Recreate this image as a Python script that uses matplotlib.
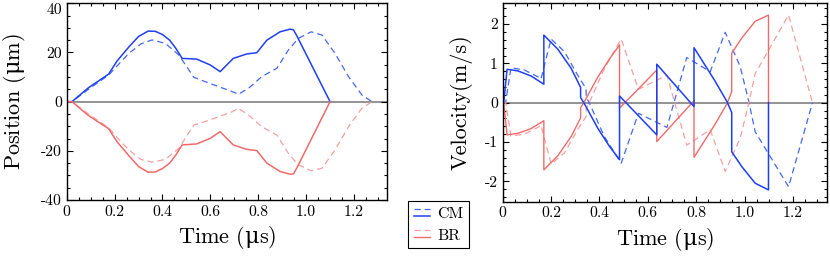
import matplotlib
matplotlib.use("Agg")
import matplotlib.pyplot as plt
from matplotlib.ticker import MultipleLocator, FixedLocator, FixedFormatter
from matplotlib.legend_handler import HandlerBase
from matplotlib.lines import Line2D

plt.rcParams['font.family'] = ['cmr10', 'DejaVu Serif']
plt.rcParams['axes.unicode_minus'] = False
plt.rcParams['mathtext.fontset'] = 'custom'
plt.rcParams['mathtext.rm'] = 'DejaVu Serif'
plt.rcParams['mathtext.it'] = 'DejaVu Serif:italic'
plt.rcParams['mathtext.bf'] = 'DejaVu Serif:bold'

# ---- position data (um) ----
t_pos_solid = [0, 0.022, 0.09, 0.175, 0.21, 0.26, 0.30, 0.34, 0.37, 0.40, 0.43, 0.455,
               0.482, 0.543, 0.60, 0.641, 0.665, 0.696, 0.752, 0.794, 0.836, 0.891,
               0.933, 0.947, 0.96, 1.10]
pos_cm_solid = [0, 0, 5.6, 11.2, 16.5, 22.3, 26.5, 28.7, 28.6, 27.3, 25.0, 21.8,
                17.6, 17.3, 14.9, 12.2, 14.6, 17.6, 19.4, 19.9, 25.0, 28.4,
                29.5, 29.2, 27.0, 0]
pos_br_solid = [0, 0, -5.6, -11.0, -16.3, -22.0, -26.4, -28.7, -28.6, -27.2, -25.0, -21.8,
                -17.6, -17.2, -14.9, -12.2, -14.6, -17.6, -19.4, -19.9, -25.0, -28.4,
                -29.5, -29.4, -27.2, 0]

t_pos_dash = [0, 0.022, 0.09, 0.175, 0.21, 0.259, 0.31, 0.356, 0.412, 0.468, 0.531,
              0.579, 0.691, 0.717, 0.759, 0.815, 0.878, 0.926, 0.967, 1.021, 1.066,
              1.121, 1.177, 1.233, 1.275]
pos_cm_dash = [0, 0, 5.0, 10.8, 14.5, 19.6, 23.5, 25.1, 23.7, 19.0, 9.9,
               8.1, 4.1, 3.0, 5.4, 10.2, 13.6, 21.0, 25.7, 28.4, 27.1,
               19.6, 10.2, 2.7, 0]
pos_br_dash = [0, 0, -5.0, -10.6, -14.5, -19.6, -23.5, -24.6, -23.5, -19.0, -9.5,
               -8.1, -4.1, -2.7, -5.4, -10.2, -13.6, -21.0, -25.7, -28.1, -27.1,
               -19.6, -10.2, -2.7, 0]

# ---- velocity data (m/s) ----
t_vel_solid = [0, 0.004, 0.018, 0.062, 0.117, 0.170, 0.170, 0.228, 0.283, 0.322, 0.322,
               0.338, 0.393, 0.440, 0.483, 0.483, 0.637, 0.637, 0.791, 0.791, 0.878,
               0.927, 0.947, 0.947, 0.989, 1.044, 1.099, 1.099]
vel_cm_solid = [0, 0, 0.85, 0.81, 0.68, 0.47, 1.72, 1.36, 0.875, 0.39, 0.13,
                -0.03, -0.65, -1.10, -1.45, 0.17, -0.82, 0.98, -0.10, 1.40, 0.55,
                0.03, -0.25, -1.25, -1.63, -2.05, -2.22, 0]
vel_br_solid = [0, 0, -0.82, -0.78, -0.66, -0.46, -1.71, -1.35, -0.86, -0.39, -0.13,
                0.03, 0.65, 1.10, 1.47, -0.14, 0.83, -0.99, 0.05, -1.39, -0.55,
                -0.03, 0.28, 1.26, 1.65, 2.07, 2.23, 0]

t_vel_dash = [0, 0.012, 0.034, 0.09, 0.145, 0.158, 0.20, 0.255, 0.31, 0.345, 0.345,
              0.365, 0.42, 0.49, 0.561, 0.679, 0.761, 0.858, 0.92, 0.982, 1.016,
              1.044, 1.182, 1.281]
vel_cm_dash = [0, 0, 0.89, 0.83, 0.66, 0.60, 1.62, 1.30, 0.70, 0.35, 0.15,
               -0.10, -0.86, -1.54, -0.27, -0.63, 1.15, 0.79, 1.79, 0.92, 0.07,
               -0.74, -2.14, 0]
vel_br_dash = [0, 0, -0.85, -0.80, -0.63, -0.57, -1.56, -1.28, -0.68, -0.35, -0.15,
               0.10, 0.86, 1.62, 0.34, 0.70, -1.08, -0.69, -1.75, -0.90, -0.05,
               0.74, 2.23, 0]

blue = '#1f3ff2'
blue_d = '#4468f2'
red = '#f26a6a'
red_d = '#f5a0a0'
dash = (5, 3.2)
time_label = r'Time ($\mathrm{\mu}$s)'

fig = plt.figure(figsize=(8.3, 2.73), dpi=100)
ax1 = fig.add_axes([0.0804, 0.2674, 0.3859, 0.7205])
ax2 = fig.add_axes([0.6057, 0.2612, 0.3904, 0.7268])

ax1.axhline(0, color='#8a8a8a', lw=1.3, zorder=1)
ax1.plot(t_pos_dash, pos_cm_dash, color=blue_d, lw=0.9, dashes=dash)
ax1.plot(t_pos_solid, pos_cm_solid, color=blue, lw=1.1)
ax1.plot(t_pos_dash, pos_br_dash, color=red_d, lw=0.9, dashes=dash)
ax1.plot(t_pos_solid, pos_br_solid, color=red, lw=1.1)

ax2.axhline(0, color='#8a8a8a', lw=1.3, zorder=1)
cm_d, = ax2.plot(t_vel_dash, vel_cm_dash, color=blue_d, lw=0.9, dashes=dash)
br_d, = ax2.plot(t_vel_dash, vel_br_dash, color=red_d, lw=0.9, dashes=dash)
br_s, = ax2.plot(t_vel_solid, vel_br_solid, color=red, lw=1.0)
cm_s, = ax2.plot(t_vel_solid, vel_cm_solid, color=blue, lw=1.1)

xt = [0, 0.2, 0.4, 0.6, 0.8, 1.0, 1.2]
xl = ['0', '0.2', '0.4', '0.6', '0.8', '1.0', '1.2']

ax1.set_xlim(0, 1.338)
ax1.set_ylim(-40, 40)
ax1.xaxis.set_major_locator(FixedLocator(xt))
ax1.xaxis.set_major_formatter(FixedFormatter(xl))
ax1.xaxis.set_minor_locator(MultipleLocator(0.05))
ax1.yaxis.set_major_locator(FixedLocator([-40, -20, 0, 20, 40]))
ax1.yaxis.set_major_formatter(FixedFormatter(['-40', '-20', '0', '20', '40']))
ax1.yaxis.set_minor_locator(MultipleLocator(5))
ax1.set_xlabel(time_label, fontsize=16, labelpad=4)
ax1.set_ylabel('Position (' + r'$\mathrm{\mu}$' + 'm)', fontsize=16, labelpad=9)

ax2.set_xlim(0, 1.34)
ax2.set_ylim(-2.52, 2.53)
ax2.xaxis.set_major_locator(FixedLocator(xt))
ax2.xaxis.set_major_formatter(FixedFormatter(xl))
ax2.xaxis.set_minor_locator(MultipleLocator(0.05))
ax2.yaxis.set_major_locator(FixedLocator([-2, -1, 0, 1, 2]))
ax2.yaxis.set_major_formatter(FixedFormatter(['-2', '-1', '0', '1', '2']))
ax2.yaxis.set_minor_locator(MultipleLocator(0.2))
ax2.set_xlabel(time_label, fontsize=16, labelpad=4)
ax2.set_ylabel('Velocity(m/s)', fontsize=16, labelpad=9)

for ax in (ax1, ax2):
    ax.tick_params(which='both', direction='in', top=True, right=True,
                   labelsize=11.3, width=0.8, pad=3.5)
    ax.tick_params(which='major', length=4)
    ax.tick_params(which='minor', length=2)
    for s in ax.spines.values():
        s.set_linewidth(1.0)

# top label of the position axis sits just below its tick, as in the original
ax1.get_yticklabels()[-1].set_verticalalignment('top')


class StackHandler(HandlerBase):
    def create_artists(self, legend, orig_handle, xdescent, ydescent,
                       width, height, fontsize, trans):
        arts = []
        for h, frac in zip(orig_handle, (0.85, 0.2)):
            y = -ydescent + height * frac
            ln = Line2D([-xdescent, -xdescent + width], [y, y])
            self.update_prop(ln, h, legend)
            ln.set_transform(trans)
            arts.append(ln)
        return arts


leg = fig.legend([(cm_d, cm_s), (br_d, br_s)], ['CM', 'BR'],
                 handler_map={tuple: StackHandler()},
                 loc='upper left', bbox_to_anchor=(0.4916, 0.262),
                 fontsize=11.5, frameon=True, fancybox=False, framealpha=1,
                 edgecolor='black', handlelength=1.0, handletextpad=0.5,
                 labelspacing=0.45, borderpad=0.35, borderaxespad=0)
leg.get_frame().set_linewidth(0.8)

fig.savefig('out.png', dpi=100)
